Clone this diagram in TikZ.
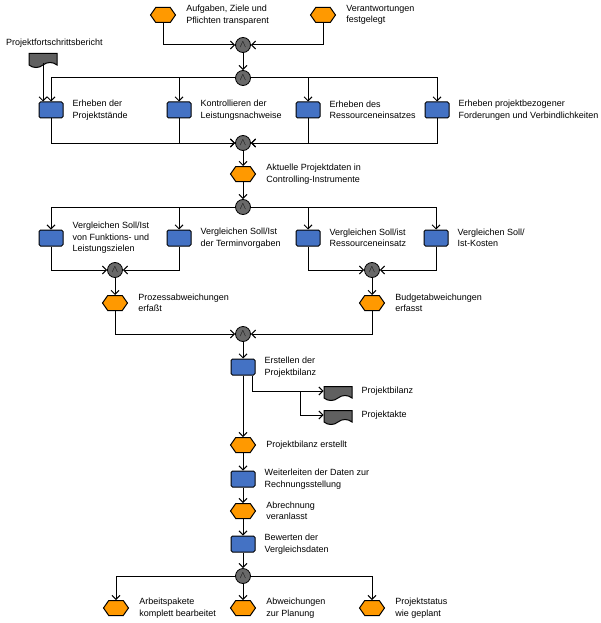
\documentclass[tikz,border=0pt]{standalone}
\usepackage{fontspec}
\setmainfont{Liberation Sans}
\usetikzlibrary{positioning,shapes.symbols,arrows.meta}
\definecolor{evorange}{RGB}{255,153,0}
\definecolor{fnblue}{RGB}{68,114,196}
\definecolor{opgray}{RGB}{105,105,105}
\definecolor{docgray}{RGB}{96,96,96}

\begin{document}
\begin{tikzpicture}[x=1pt,y=-1pt,
    event/.style={signal,signal to=east and west,signal pointer angle=110,draw,line width=1pt,fill=evorange,minimum width=25pt,minimum height=15pt,inner sep=0pt},
    func/.style={rectangle,rounded corners=1.5pt,draw,line width=1pt,fill=fnblue,minimum width=24pt,minimum height=16pt,inner sep=0pt},
    op/.style={circle,draw,line width=0.8pt,fill=opgray,minimum size=15pt,inner sep=0pt,font=\normalsize},
    doc/.style={tape,tape bend top=none,tape bend bottom=in and out,draw,line width=1pt,fill=docgray,minimum width=28pt,minimum height=14pt,inner sep=0pt},
    txt/.style={font=\fontsize{9}{11.5}\selectfont,align=left,inner sep=1pt},
    flow/.style={line width=1pt,-{Straight Barb[length=4pt,width=8pt]}}]
    \fill[white] (0,0) rectangle (600,623);
    \useasboundingbox (0,0) rectangle (600,623);

    % start events
    \node[event] (ev1) at (163,15) {};
    \node[txt,right=9pt of ev1] (tev1) {Aufgaben, Ziele und\\Pflichten transparent};
    \node[event] (ev2) at (323,15) {};
    \node[txt,right=9pt of ev2] (tev2) {Verantwortungen\\festgelegt};
    \node[op] (c1) at (243,45) {$\wedge$};
    \node[op] (c2) at (243,78) {$\wedge$};

    % collect data
    \node[doc] (d1) at (43,58) {};
    \node[txt,anchor=west] (td1) at (5,43) {Projektfortschrittsbericht};
    \node[func] (f1) at (51,110) {};
    \node[txt,right=8pt of f1] (tf1) {Erheben der\\Projektstände};
    \node[func] (f2) at (179,110) {};
    \node[txt,right=8pt of f2] (tf2) {Kontrollieren der\\Leistungsnachweise};
    \node[func] (f3) at (308,110) {};
    \node[txt,right=8pt of f3] (tf3) {Erheben des\\Ressourceneinsatzes};
    \node[func] (f4) at (437,110) {};
    \node[txt,right=8pt of f4] (tf4) {Erheben projektbezogener\\Forderungen und Verbindlichkeiten};
    \node[op] (c3) at (243,143) {$\wedge$};

    \node[event] (ev3) at (243,174) {};
    \node[txt,right=9pt of ev3] (tev3) {Aktuelle Projektdaten in\\Controlling-Instrumente};
    \node[op] (c4) at (243,207) {$\wedge$};

    % compare
    \node[func] (g1) at (51,238) {};
    \node[txt,right=8pt of g1] (tg1) {Vergleichen Soll/Ist\\von Funktions- und\\Leistungszielen};
    \node[func] (g2) at (179,238) {};
    \node[txt,right=8pt of g2] (tg2) {Vergleichen Soll/Ist\\der Terminvorgaben};
    \node[func] (g3) at (308,238) {};
    \node[txt,right=8pt of g3] (tg3) {Vergleichen Soll/ist\\Ressourceneinsatz};
    \node[func] (g4) at (436,238) {};
    \node[txt,right=8pt of g4] (tg4) {Vergleichen Soll/\\Ist-Kosten};
    \node[op] (c5) at (115,270) {$\wedge$};
    \node[op] (c6) at (372,270) {$\wedge$};
    \node[event] (ev4) at (115,303) {};
    \node[txt,right=9pt of ev4] (tev4) {Prozessabweichungen\\erfaßt};
    \node[event] (ev5) at (372,303) {};
    \node[txt,right=9pt of ev5] (tev5) {Budgetabweichungen\\erfasst};
    \node[op] (c7) at (243,334) {$\wedge$};

    % balance
    \node[func] (f5) at (243,367) {};
    \node[txt,right=8pt of f5] (tf5) {Erstellen der\\Projektbilanz};
    \node[doc] (d2) at (338,391) {};
    \node[txt,right=8pt of d2] (td2) {Projektbilanz};
    \node[doc] (d3) at (338,415) {};
    \node[txt,right=8pt of d3] (td3) {Projektakte};
    \coordinate (br) at (300,391);
    \node[event] (ev6) at (243,445) {};
    \node[txt,right=9pt of ev6] (tev6) {Projektbilanz erstellt};
    \node[func] (f6) at (243,479) {};
    \node[txt,right=8pt of f6] (tf6) {Weiterleiten der Daten zur\\Rechnungsstellung};
    \node[event] (ev7) at (243,511) {};
    \node[txt,right=9pt of ev7] (tev7) {Abrechnung\\veranlasst};
    \node[func] (f7) at (243,544) {};
    \node[txt,right=8pt of f7] (tf7) {Bewerten der\\Vergleichsdaten};
    \node[op] (c8) at (243,576) {$\wedge$};

    % end events
    \node[event] (ev8) at (116,608) {};
    \node[txt,right=9pt of ev8] (tev8) {Arbeitspakete\\komplett bearbeitet};
    \node[event] (ev9) at (243,608) {};
    \node[txt,right=9pt of ev9] (tev9) {Abweichungen\\zur Planung};
    \node[event] (ev10) at (372,608) {};
    \node[txt,right=9pt of ev10] (tev10) {Projektstatus\\wie geplant};

    % connectors
    \draw[flow] (ev1) |- (c1);
    \draw[flow] (ev2) |- (c1);
    \path (c1) edge[flow] (c2);
    \draw[flow] (c2) -| (f1);
    \draw[flow] (c2) -| (f2);
    \draw[flow] (c2) -| (f3);
    \draw[flow] (c2) -| (f4);
    \draw[flow] (d1.south) -- (d1.south |- f1.north);
    \draw[flow] (f1) |- (c3);
    \draw[flow] (f2) |- (c3);
    \draw[flow] (f3) |- (c3);
    \draw[flow] (f4) |- (c3);
    \path (c3) edge[flow] (ev3);
    \path (ev3) edge[flow] (c4);
    \draw[flow] (c4) -| (g1);
    \draw[flow] (c4) -| (g2);
    \draw[flow] (c4) -| (g3);
    \draw[flow] (c4) -| (g4);
    \draw[flow] (g1) |- (c5);
    \draw[flow] (g2) |- (c5);
    \draw[flow] (g3) |- (c6);
    \draw[flow] (g4) |- (c6);
    \path (c5) edge[flow] (ev4);
    \path (c6) edge[flow] (ev5);
    \draw[flow] (ev4) |- (c7);
    \draw[flow] (ev5) |- (c7);
    \path (c7) edge[flow] (f5);
    \draw[flow] ([xshift=9pt]f5.south) |- (d2);
    \draw[flow] (br) |- (d3);
    \path (f5) edge[flow] (ev6);
    \path (ev6) edge[flow] (f6);
    \path (f6) edge[flow] (ev7);
    \path (ev7) edge[flow] (f7);
    \path (f7) edge[flow] (c8);
    \draw[flow] (c8) -| (ev8);
    \path (c8) edge[flow] (ev9);
    \draw[flow] (c8) -| (ev10);
\end{tikzpicture}
\end{document}
